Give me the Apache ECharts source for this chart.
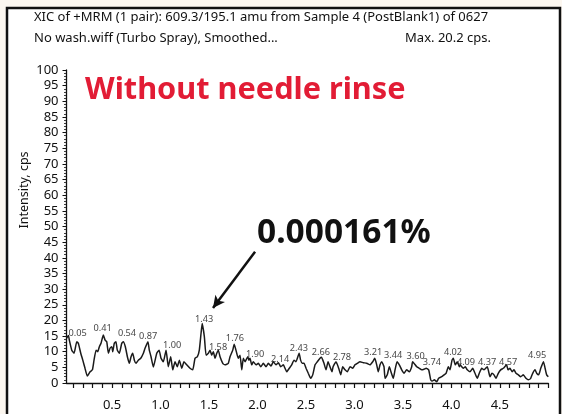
<!DOCTYPE html>
<html>
<head>
<meta charset="utf-8">
<script src="https://cdn.jsdelivr.net/npm/echarts@6/dist/echarts.min.js"></script>
<style>
html,body{margin:0;padding:0;background:#fcf7f0;}
#chart{width:562px;height:414px;}
</style>
</head>
<body>
<div id="chart"></div>
<script>
// ---- data (retention time, min / intensity, cps) ----
const times = [0.03,0.05,0.059,0.084,0.108,0.136,0.152,0.177,0.198,0.221,0.245,0.273,0.297,0.314,0.335,0.352,0.369,0.386,0.41,0.428,0.445,0.462,0.479,0.497,0.507,0.523,0.54,0.554,0.575,0.6,0.616,0.637,0.658,0.678,0.696,0.713,0.73,0.747,0.771,0.796,0.823,0.84,0.87,0.884,0.902,0.926,0.961,0.985,1.005,1.029,1.057,1.08,1.105,1.126,1.15,1.173,1.194,1.219,1.242,1.27,1.304,1.332,1.356,1.38,1.4,1.418,1.43,1.452,1.47,1.493,1.511,1.528,1.545,1.562,1.58,1.596,1.614,1.642,1.665,1.699,1.717,1.745,1.76,1.786,1.802,1.82,1.838,1.854,1.872,1.9,1.912,1.923,1.941,1.957,1.985,2.009,2.034,2.06,2.088,2.112,2.14,2.163,2.191,2.215,2.24,2.267,2.284,2.302,2.328,2.353,2.377,2.397,2.43,2.445,2.462,2.48,2.501,2.524,2.549,2.57,2.594,2.617,2.645,2.66,2.686,2.707,2.728,2.748,2.769,2.78,2.81,2.838,2.859,2.879,2.903,2.927,2.955,2.982,3.006,3.03,3.058,3.092,3.127,3.161,3.189,3.21,3.23,3.246,3.264,3.282,3.305,3.316,3.339,3.36,3.377,3.401,3.419,3.44,3.463,3.488,3.512,3.539,3.566,3.591,3.6,3.643,3.669,3.694,3.718,3.74,3.766,3.787,3.803,3.824,3.849,3.869,3.9,3.924,3.945,3.969,3.986,4.007,4.02,4.041,4.061,4.082,4.09,4.123,4.144,4.164,4.192,4.22,4.244,4.268,4.288,4.313,4.337,4.37,4.385,4.399,4.419,4.44,4.461,4.484,4.509,4.536,4.57,4.584,4.605,4.626,4.646,4.667,4.691,4.715,4.742,4.77,4.794,4.818,4.839,4.863,4.88,4.901,4.922,4.95,4.967,4.983,5.0];
const intensity = [14.3,15.2,13.7,10.5,9.5,13.2,12.7,9.5,7.3,4.7,2.2,3.6,4.2,7.3,10.5,10.0,11.6,12.7,15.3,13.7,13.2,9.5,11.1,11.6,10.0,12.7,13.2,10.5,9.5,12.7,13.2,11.6,8.4,6.3,8.4,9.5,7.3,6.3,7.3,7.9,9.5,11.1,13.2,10.5,8.4,5.1,9.5,10.5,7.9,6.8,10.5,5.2,8.4,4.2,6.8,5.2,7.3,4.7,6.8,5.8,4.7,4.2,7.9,8.4,10.5,15.9,19.0,14.8,8.9,9.5,10.5,8.9,10.0,7.9,9.5,10.5,8.4,6.3,5.8,6.3,8.4,10.5,12.4,9.5,7.9,8.9,4.2,7.9,6.8,8.4,7.3,7.9,5.8,6.8,5.8,6.3,5.2,6.3,5.2,6.3,5.4,6.8,5.8,6.5,5.2,5.8,4.7,3.6,4.7,5.8,7.3,6.8,9.5,7.3,6.3,6.3,4.7,3.1,1.5,2.6,5.8,6.8,7.9,8.2,6.3,4.2,6.8,5.2,3.6,5.2,6.8,4.7,2.6,5.2,4.2,3.6,5.2,4.7,5.8,6.3,6.8,6.5,6.3,5.8,6.8,7.9,5.8,3.6,5.8,6.8,5.2,1.5,2.6,5.2,3.6,1.5,4.2,6.8,5.8,4.2,3.1,4.2,3.6,5.2,6.8,5.2,4.7,4.2,4.4,4.7,4.2,1.0,0.6,1.0,0.4,1.5,2.0,2.6,3.1,5.2,4.2,7.3,7.9,5.8,6.8,5.2,5.8,4.7,5.2,4.2,3.6,4.7,3.1,1.5,3.1,4.7,4.2,5.2,3.6,2.0,3.1,2.6,1.5,3.1,4.2,4.7,5.8,4.2,4.7,3.6,4.2,3.1,2.6,2.0,2.6,1.5,1.0,1.5,3.1,4.2,3.1,2.6,4.7,6.8,4.7,2.6,2.0];

// peak annotations: label text and where each label sits (data units)
const peakLabels = ['0.05','0.41','0.54','0.87','1.00','1.43','1.58','1.76','1.90','2.14','2.43','2.66','2.78','3.21','3.44','3.60','3.74','4.02','4.09','4.37','4.57','4.95'];
const peakLabelTime = [0.144,0.402,0.654,0.871,1.119,1.449,1.593,1.768,1.975,2.233,2.428,2.655,2.872,3.192,3.400,3.632,3.80,4.017,4.151,4.368,4.585,4.884];
const peakLabelLevel = [16.0,17.3,15.7,15.0,12.1,20.4,11.5,14.4,9.3,7.7,11.2,9.9,8.3,9.9,8.9,8.6,6.7,9.9,6.7,6.7,6.7,8.9];

const xTickValues = [0.1,0.2,0.3,0.4,0.5,0.6,0.7,0.8,0.9,1.0,1.1,1.2,1.3,1.4,1.5,1.6,1.7,1.8,1.9,2.0,2.1,2.2,2.3,2.4,2.5,2.6,2.7,2.8,2.9,3.0,3.1,3.2,3.3,3.4,3.5,3.6,3.7,3.8,3.9,4.0,4.1,4.2,4.3,4.4,4.5,4.6,4.7,4.8,4.9,5.0];
const xLabelValues = [0.5,1.0,1.5,2.0,2.5,3.0,3.5,4.0,4.5];

// arrow from the annotation text to the 1.43 peak (data units)
const arrowFrom = [1.975, 41.9];
const arrowTo = [1.541, 24.0];

const titleLine1 = 'XIC of +MRM (1 pair): 609.3/195.1 amu from Sample 4 (PostBlank1) of 0627';
const titleLine2 = 'No wash.wiff (Turbo Spray), Smoothed...';
const titleMax = 'Max. 20.2 cps.';

const FONT = '"Noto Sans", "Open Sans", sans-serif';

const chart = echarts.init(document.getElementById('chart'), null, {renderer: 'canvas'});
chart.setOption({
  animation: false,
  backgroundColor: '#fcf7f0',
  graphic: [
    {type: 'rect', z: -10, shape: {x: 7, y: 8, width: 553, height: 420}, style: {fill: '#ffffff', stroke: '#111111', lineWidth: 2.5}},
    {type: 'text', style: {x: 34, y: 17, text: titleLine1, font: '13px ' + FONT, fill: '#111', verticalAlign: 'middle'}},
    {type: 'text', style: {x: 34, y: 38, text: titleLine2, font: '13px ' + FONT, fill: '#111', verticalAlign: 'middle'}},
    {type: 'text', style: {x: 491, y: 38, text: titleMax, font: '13px ' + FONT, fill: '#111', align: 'right', verticalAlign: 'middle'}},
    {type: 'text', style: {x: 85, y: 90, text: 'Without needle rinse', font: 'bold 30.7px ' + FONT, fill: '#e21c35', verticalAlign: 'middle'}},
    {type: 'text', style: {x: 257, y: 233, text: '0.000161%', font: 'bold 33.5px ' + FONT, fill: '#111', verticalAlign: 'middle'}},
    {type: 'text', rotation: Math.PI / 2, x: 24, y: 190, style: {x: 0, y: 0, text: 'Intensity, cps', font: '12.5px ' + FONT, fill: '#111', align: 'center', verticalAlign: 'middle'}}
  ],
  grid: {left: 66.5, right: 13.7, top: 70, bottom: 31},
  xAxis: {
    type: 'value', min: 0.03, max: 5.0,
    axisLine: {show: true, onZero: false, lineStyle: {color: '#111', width: 1.3}},
    axisTick: {show: true, customValues: xTickValues, length: 5, lineStyle: {color: '#111', width: 1.2}},
    axisLabel: {customValues: xLabelValues, formatter: v => v.toFixed(1), fontSize: 13, fontFamily: FONT, color: '#111', margin: 16},
    splitLine: {show: false}
  },
  yAxis: {
    type: 'value', min: 0, max: 100, interval: 5,
    axisLine: {show: true, lineStyle: {color: '#111', width: 1.3}},
    axisTick: {show: true, length: 4, lineStyle: {color: '#111', width: 1}},
    minorTick: {show: true, splitNumber: 5, length: 2.5, lineStyle: {color: '#111', width: 0.8}},
    axisLabel: {fontSize: 13, fontFamily: FONT, color: '#111', margin: 8},
    splitLine: {show: false}
  },
  series: [
    {
      type: 'line',
      data: times.map((t, i) => [t, intensity[i]]),
      showSymbol: false,
      smooth: 0.15,
      lineStyle: {color: '#1a1a1a', width: 1.5},
      markLine: {
        silent: true,
        symbol: ['none', 'arrow'],
        symbolSize: [9, 12],
        lineStyle: {color: '#111', width: 2.5, type: 'solid'},
        label: {show: false},
        data: [[{coord: arrowFrom}, {coord: arrowTo}]]
      }
    },
    {
      type: 'scatter',
      symbolSize: 0,
      data: peakLabelTime.map((t, i) => [t, peakLabelLevel[i]]),
      label: {
        show: true, position: 'inside',
        formatter: p => peakLabels[p.dataIndex],
        fontSize: 9.2, fontFamily: FONT, color: '#111'
      }
    }
  ]
});
</script>
</body>
</html>
